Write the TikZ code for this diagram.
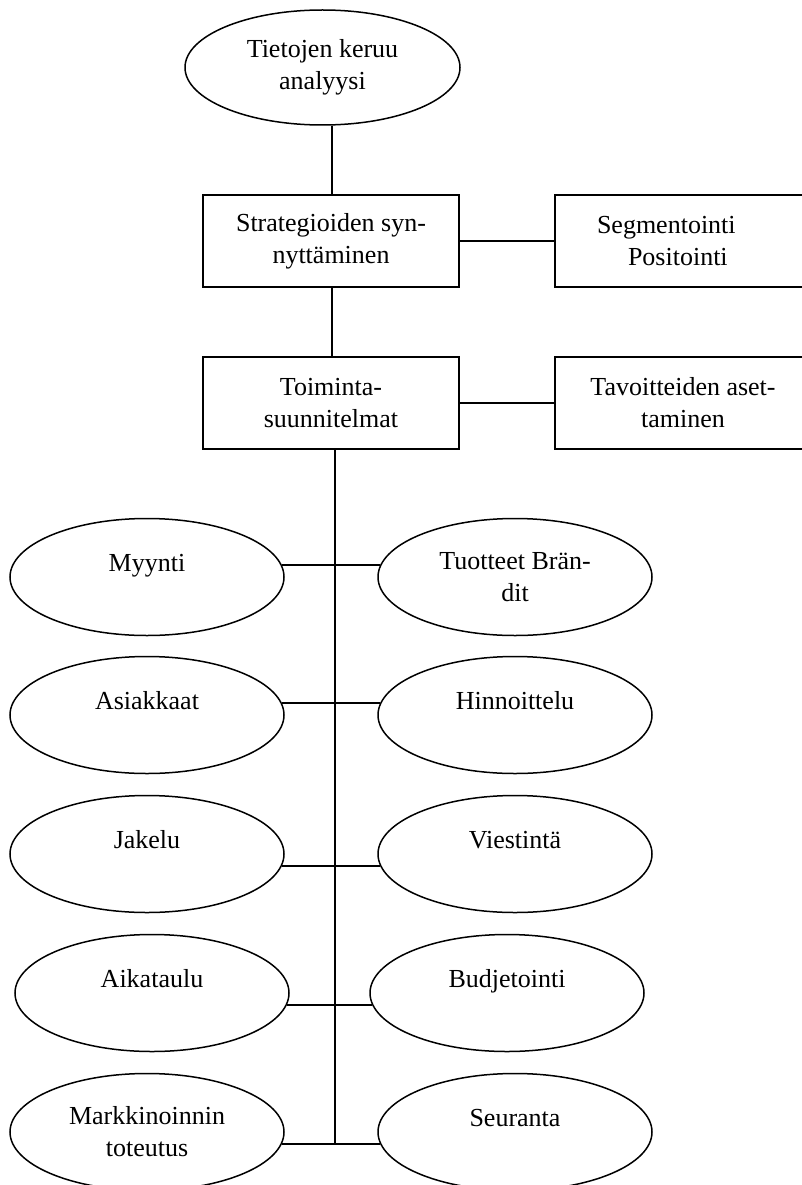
\documentclass[tikz,border=0pt]{standalone}
\usepackage{fontspec}
\setmainfont{Liberation Serif}
\usetikzlibrary{shapes.geometric}
\begin{document}
\begin{tikzpicture}[x=1pt, y=-1pt, line width=1.5pt,
  every node/.style={font=\fontsize{26}{32}\selectfont, align=center},
  oval/.style={draw, ellipse, minimum width=274pt, minimum height=117pt, inner sep=0pt},
  oneline/.style={text height=18pt, text depth=30pt},
  box/.style={draw, rectangle, minimum width=256pt, minimum height=92pt, inner sep=0pt},
  link/.style={line width=1.6pt},
  boldlink/.style={line width=2.1pt}]
\useasboundingbox (0,0) rectangle (802,1185);
\clip (0,0) rectangle (802,1185);

% upper chain: analysis, strategy, action plans
\node[oval, minimum width=275pt, minimum height=115pt] (data) at (322.5,67.5) {Tietojen keruu\\analyysi};
\node[box] (strat) at (331,241) {Strategioiden syn-\\nyttäminen};
\node[box] (plans) at (331,403) {Toiminta-\\suunnitelmat};
\node[box, align=left, text width=172pt, inner xsep=42pt] (segm) at (683,241) {Segmentointi\\\hspace*{31pt}Positointi};
\node[box] (goals) at (683,403) {Tavoitteiden aset-\\taminen};

\coordinate (spine) at (332,0);
\coordinate (trunkend) at (335,1143);

\draw[link] (data.south -| spine) -- (strat.north -| spine);
\draw[link] (strat.south -| spine) -- (plans.north -| spine);
\draw[link] (strat.east) -- (segm.west);
\draw[link] (plans.east) -- (goals.west);
\draw[link] (plans.south -| trunkend) -- (trunkend);

% marketing mix items on both sides of the trunk
\node[oval, oneline] (sales) at (147,577) {Myynti};
\node[oval] (brands) at (515,577) {Tuotteet Brän-\\dit};
\node[oval, oneline] (customers) at (147,715) {Asiakkaat};
\node[oval, oneline] (pricing) at (515,715) {Hinnoittelu};
\node[oval, oneline] (distrib) at (147,854) {Jakelu};
\node[oval, oneline] (comm) at (515,854) {Viestintä};
\node[oval, oneline] (schedule) at (152,993) {Aikataulu};
\node[oval, oneline] (budget) at (507,993) {Budjetointi};
\node[oval] (exec) at (147,1132) {Markkinoinnin\\toteutus};
\node[oval, oneline] (followup) at (515,1132) {Seuranta};

\draw[link] (sales.5) -- (brands.175);
\draw[link] (customers.5) -- (pricing.175);
\draw[link] (distrib.-5) -- (comm.185);
\draw[boldlink] (schedule.-5) -- (budget.185);
\draw[boldlink] (exec.-5) -- (followup.185);
\end{tikzpicture}
\end{document}
